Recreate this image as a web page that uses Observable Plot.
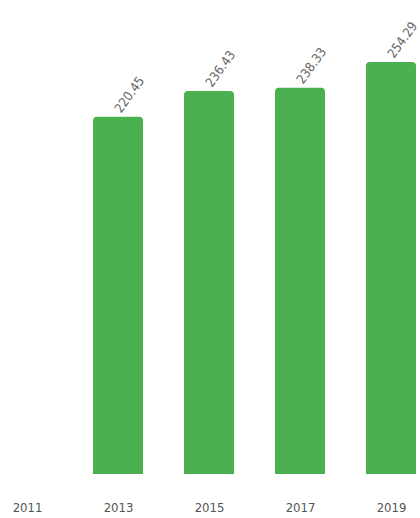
<!DOCTYPE html>
<html>
<head>
<meta charset="utf-8">
<script src="https://cdn.jsdelivr.net/npm/d3@7"></script>
<script src="https://cdn.jsdelivr.net/npm/@observablehq/plot@0.6"></script>
<style>
  html, body { margin: 0; padding: 0; background: #fff; }
  #chart svg { display: block; }
</style>
</head>
<body>
<div id="chart"></div>
<script>
const years = ["2011", "2013", "2015", "2017", "2019"];
const values = [null, 220.45, 236.43, 238.33, 254.29];
const labels = ["", "220.45", "236.43", "238.33", "254.29"];

const data = years.map((year, i) => ({year, value: values[i], label: labels[i]}))
  .filter(d => d.value != null);

const chart = Plot.plot({
  width: 420,
  height: 518,
  marginLeft: 1,
  marginRight: 2,
  marginTop: 4,
  marginBottom: 44,
  style: {fontFamily: "'DejaVu Sans Condensed', 'Liberation Sans Narrow', sans-serif", background: "#fff"},
  x: {domain: years, paddingInner: 0.45, paddingOuter: 0, label: null, tickSize: 0, tickPadding: 28},
  y: {domain: [0, 290.1], axis: null},
  marks: [
    Plot.barY(data, {x: "year", y: "value", fill: "#4caf50", ry1: 4}),
    Plot.text(data, {x: "year", y: "value", text: "label", rotate: -54, textAnchor: "start", dy: -6, dx: -1, fill: "#666", fontSize: 13}),
    Plot.axisX({tickSize: 0, tickPadding: 28, fontSize: 13, color: "#555", label: null})
  ]
});
document.getElementById("chart").appendChild(chart);
</script>
</body>
</html>
